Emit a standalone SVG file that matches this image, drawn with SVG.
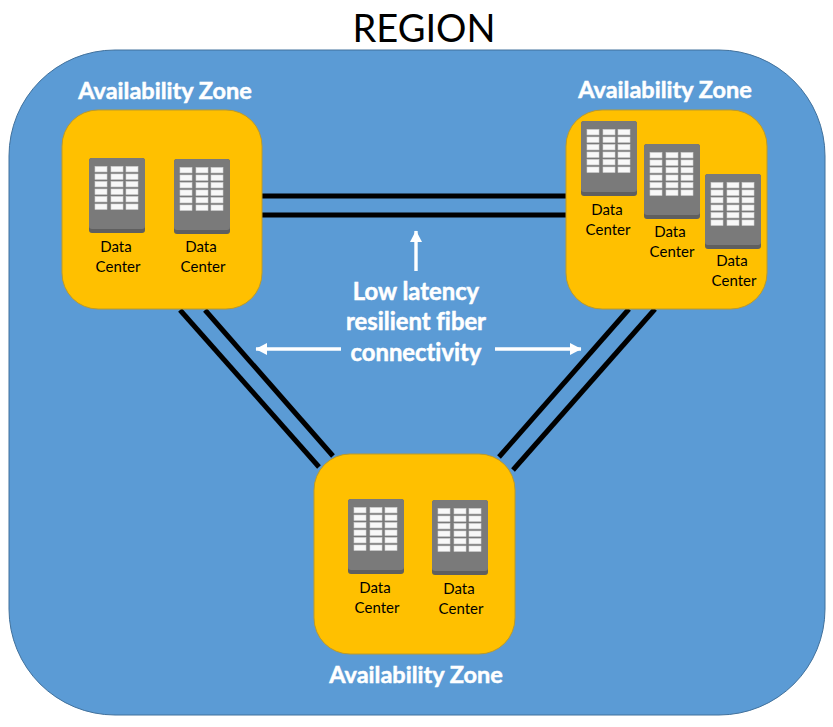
<svg xmlns="http://www.w3.org/2000/svg" width="833" height="727" viewBox="0 0 833 727">
<style>
text{font-family:"Lato","Liberation Sans",sans-serif;text-anchor:middle;font-variant-ligatures:none}
.zone{fill:#ffc000;stroke:#bc9a2a;stroke-width:1}
.fiber{stroke:#000;stroke-width:5;fill:none}
.arrow{stroke:#fff;stroke-width:3.4;fill:none;marker-end:url(#ah)}
.az{fill:#fff;stroke:#fff;stroke-width:.5;font-weight:700;font-size:23.500px}
.lbl{fill:#fff;stroke:#fff;stroke-width:.5;font-weight:700;font-size:23.800px}
.dc{fill:#000;font-size:15px}
.win{fill:#f8f8f8;stroke:#d4d4d4;stroke-width:.6}
</style>
<defs>
<marker id="ah" markerUnits="userSpaceOnUse" markerWidth="12" markerHeight="13" refX="11" refY="6" orient="auto"><path d="M0 0L11.500 6L0 12Z" fill="#fff"/></marker>
<g id="bld">
<rect x="0" y="0" width="56" height="75" rx="3" fill="#5f5f5f"/>
<rect x="0" y="0" width="56" height="71" rx="3" fill="#7a7a7a"/>
<g class="win">
<rect x="6" y="8.500" width="12" height="5.400"/><rect x="22" y="8.500" width="12" height="5.400"/><rect x="37" y="8.500" width="12" height="5.400"/>
<rect x="6" y="16" width="12" height="5.400"/><rect x="22" y="16" width="12" height="5.400"/><rect x="37" y="16" width="12" height="5.400"/>
<rect x="6" y="23.500" width="12" height="5.400"/><rect x="22" y="23.500" width="12" height="5.400"/><rect x="37" y="23.500" width="12" height="5.400"/>
<rect x="6" y="31" width="12" height="5.400"/><rect x="22" y="31" width="12" height="5.400"/><rect x="37" y="31" width="12" height="5.400"/>
<rect x="6" y="38.500" width="12" height="5.400"/><rect x="22" y="38.500" width="12" height="5.400"/><rect x="37" y="38.500" width="12" height="5.400"/>
<rect x="6" y="46" width="12" height="5.400"/><rect x="22" y="46" width="12" height="5.400"/><rect x="37" y="46" width="12" height="5.400"/>
</g>
</g>
</defs>
<rect width="833" height="727" fill="#fff"/>
<g id="region">
<rect x="9" y="50" width="816" height="665" rx="106" fill="#5b9bd5" stroke="#41719c" stroke-width="1"/>
<text x="424" y="42" font-size="38" fill="#000">REGION</text>
</g>
<g id="connectors">
<line class="fiber" x1="262" y1="196" x2="566" y2="196"/>
<line class="fiber" x1="262" y1="215" x2="566" y2="215"/>
<line class="fiber" x1="180" y1="310" x2="319" y2="467"/>
<line class="fiber" x1="205" y1="310" x2="333" y2="456"/>
<line class="fiber" x1="629" y1="309" x2="499" y2="457"/>
<line class="fiber" x1="655" y1="309" x2="513" y2="470"/>
<line class="arrow" x1="416" y1="271" x2="416" y2="231"/>
<line class="arrow" x1="341" y1="349" x2="256" y2="349"/>
<line class="arrow" x1="495" y1="349" x2="581" y2="349"/>
</g>
<g id="zone-a">
<rect class="zone" x="62" y="110" width="200" height="199" rx="36"/>
<text class="az" x="165" y="99">Availability Zone</text>
<use href="#bld" x="89" y="158"/><use href="#bld" x="174" y="159"/>
<text class="dc" x="116" y="252">Data</text><text class="dc" x="118" y="272">Center</text>
<text class="dc" x="201" y="252">Data</text><text class="dc" x="203" y="272">Center</text>
</g>
<g id="zone-b">
<rect class="zone" x="566" y="110" width="201" height="199" rx="36"/>
<text class="az" x="665" y="98">Availability Zone</text>
<use href="#bld" x="581" y="121"/><use href="#bld" x="644" y="144"/><use href="#bld" x="705" y="174"/>
<text class="dc" x="607" y="215">Data</text><text class="dc" x="608" y="235">Center</text>
<text class="dc" x="670" y="237">Data</text><text class="dc" x="672" y="257">Center</text>
<text class="dc" x="732" y="266">Data</text><text class="dc" x="734" y="286">Center</text>
</g>
<g id="zone-c">
<rect class="zone" x="314" y="454" width="201" height="200" rx="36"/>
<text class="az" x="416" y="683">Availability Zone</text>
<use href="#bld" x="348" y="499"/><use href="#bld" x="432" y="500"/>
<text class="dc" x="375" y="593">Data</text><text class="dc" x="377" y="613">Center</text>
<text class="dc" x="459" y="594">Data</text><text class="dc" x="461" y="614">Center</text>
</g>
<g id="label">
<text class="lbl" x="416" y="300">Low latency</text>
<text class="lbl" x="416" y="330">resilient fiber</text>
<text class="lbl" x="416" y="361">connectivity</text>
</g>
</svg>
